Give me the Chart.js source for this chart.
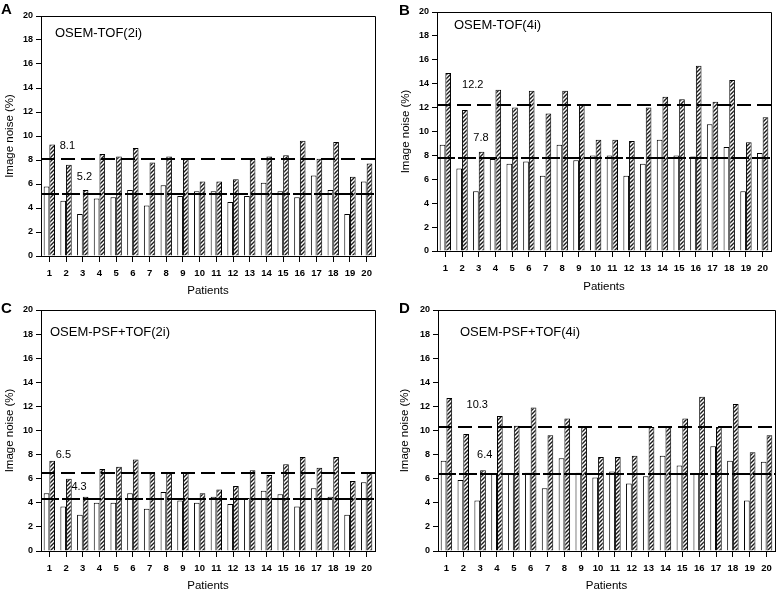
<!DOCTYPE html>
<html lang="en">
<head>
<meta charset="UTF-8" />
<title>Image noise per patient</title>
<script src="https://cdn.jsdelivr.net/npm/chart.js"></script>
<style>
  body { margin: 0; background: #fff; }
  #wrap { position: relative; width: 778px; height: 593px; overflow: hidden; background: #fff; }
  canvas { position: absolute; }
  .tag { position: absolute; font: bold 15px Arial, "Liberation Sans", sans-serif; line-height: 1; color: #000; }
</style>
</head>
<body>
<div id="wrap">
  <canvas id="chartA" width="389" height="303" style="left:0;top:0"></canvas>
  <canvas id="chartB" width="389" height="303" style="left:389px;top:0"></canvas>
  <canvas id="chartC" width="389" height="300" style="left:0;top:297px"></canvas>
  <canvas id="chartD" width="389" height="300" style="left:389px;top:297px"></canvas>
  <div class="tag" style="left:1px;top:1px">A</div>
  <div class="tag" style="left:399px;top:2px">B</div>
  <div class="tag" style="left:1px;top:300px">C</div>
  <div class="tag" style="left:399px;top:300px">D</div>
</div>
<script>
const patients = ['1','2','3','4','5','6','7','8','9','10','11','12','13','14','15','16','17','18','19','20'];
const yMax = 20, yStep = 2;

// A: OSEM-TOF(2i)
const openA  = [5.8, 4.6, 3.5, 4.8, 4.9, 5.5, 4.2, 5.9, 5.0, 5.4, 5.4, 4.5, 5.0, 6.1, 5.4, 4.9, 6.7, 5.5, 3.5, 6.2];
const hatchA = [9.3, 7.6, 5.5, 8.5, 8.3, 9.0, 7.8, 8.3, 8.1, 6.2, 6.2, 6.4, 8.1, 8.3, 8.4, 9.6, 8.1, 9.5, 6.6, 7.7];
const meanA  = [8.1, 5.2];

// B: OSEM-TOF(4i)
const openB  = [8.9, 6.9, 5.0, 7.7, 7.3, 7.5, 6.3, 8.9, 7.6, 8.0, 8.0, 6.3, 7.3, 9.3, 8.0, 7.9, 10.6, 8.7, 5.0, 8.2];
const hatchB = [14.9, 11.8, 8.3, 13.5, 12.0, 13.4, 11.5, 13.4, 12.3, 9.3, 9.3, 9.2, 12.0, 12.9, 12.7, 15.5, 12.5, 14.3, 9.1, 11.2];
const meanB  = [12.2, 7.8];

// C: OSEM-PSF+TOF(2i)
const openC  = [4.8, 3.7, 3.0, 4.0, 4.0, 4.8, 3.5, 4.9, 4.2, 4.0, 4.5, 3.9, 4.4, 5.0, 4.7, 3.7, 5.2, 4.5, 3.0, 5.7];
const hatchC = [7.5, 6.0, 4.5, 6.8, 7.0, 7.6, 6.5, 6.5, 6.5, 4.8, 5.1, 5.4, 6.7, 6.3, 7.2, 7.8, 6.9, 7.8, 5.8, 6.5];
const meanC  = [6.5, 4.3];

// D: OSEM-PSF+TOF(4i)
const openD  = [7.5, 5.9, 4.2, 6.4, 6.4, 6.5, 5.2, 7.7, 6.5, 6.1, 6.6, 5.6, 6.2, 7.9, 7.1, 6.4, 8.7, 7.5, 4.2, 7.4];
const hatchD = [12.7, 9.7, 6.7, 11.2, 10.4, 11.9, 9.6, 11.0, 10.3, 7.8, 7.8, 7.9, 10.3, 10.3, 11.0, 12.8, 10.3, 12.2, 8.2, 9.6];
const meanD  = [10.3, 6.4];

const titles = ['OSEM-TOF(2i)', 'OSEM-TOF(4i)', 'OSEM-PSF+TOF(2i)', 'OSEM-PSF+TOF(4i)'];

const FONT = 'Arial, "Liberation Sans", sans-serif';

function hatchPattern() {
  const c = document.createElement('canvas');
  c.width = 4; c.height = 4;
  const g = c.getContext('2d');
  g.fillStyle = '#fff';
  g.fillRect(0, 0, 4, 4);
  g.strokeStyle = '#1a1a1a';
  g.lineWidth = 1.4;
  g.beginPath();
  g.moveTo(-1, 5); g.lineTo(5, -1);
  g.moveTo(-1, 1); g.lineTo(1, -1);
  g.moveTo(3, 5); g.lineTo(5, 3);
  g.stroke();
  return g.createPattern(c, 'repeat');
}

// mean lines, their labels, the panel title and the top/right frame
const panelDecor = {
  id: 'panelDecor',
  afterDatasetsDraw(chart, args, o) {
    const { ctx, chartArea: a, scales: { x, y } } = chart;
    ctx.save();
    ctx.strokeStyle = '#000';
    ctx.lineWidth = 1;
    ctx.beginPath();
    ctx.moveTo(a.left, a.top + 0.5); ctx.lineTo(a.right + 0.5, a.top + 0.5); ctx.lineTo(a.right + 0.5, a.bottom);
    ctx.stroke();

    o.means.forEach((m, i) => {
      const py = Math.round(y.getPixelForValue(m));
      ctx.lineWidth = 2;
      ctx.setLineDash(i === 0 ? [14, 6] : [18, 3]);
      ctx.beginPath();
      ctx.moveTo(a.left, py); ctx.lineTo(a.right, py);
      ctx.stroke();
      ctx.setLineDash([]);
      ctx.fillStyle = '#000';
      ctx.font = '11px ' + FONT;
      ctx.textAlign = 'center';
      ctx.textBaseline = 'middle';
      ctx.fillText(m.toFixed(1), x.getPixelForValue(o.labelAt[i][0]), y.getPixelForValue(o.labelAt[i][1]));
    });

    ctx.font = '13px ' + FONT;
    ctx.textAlign = 'left';
    ctx.textBaseline = 'middle';
    ctx.fillText(o.title, a.left + o.titleAt[0], a.top + o.titleAt[1]);
    ctx.restore();
  }
};

function makePanel(id, open, hatch, means, title, g) {
  new Chart(document.getElementById(id), {
    type: 'bar',
    data: {
      labels: patients,
      datasets: [
        { data: open, backgroundColor: '#fff', borderColor: '#000', borderWidth: 1,
          categoryPercentage: 0.68, barPercentage: 1.0 },
        { data: hatch, backgroundColor: hatchPattern(), borderColor: '#000', borderWidth: 1,
          categoryPercentage: 0.68, barPercentage: 1.0 }
      ]
    },
    plugins: [panelDecor],
    options: {
      responsive: false,
      animation: false,
      layout: { padding: { top: g.top, right: g.right, left: 0, bottom: 0 } },
      plugins: {
        legend: { display: false },
        tooltip: { enabled: false },
        panelDecor: { means, title, labelAt: g.labelAt, titleAt: g.titleAt }
      },
      scales: {
        x: {
          grid: { display: true, drawOnChartArea: false, drawTicks: true, tickLength: 6, offset: false, color: '#000' },
          border: { display: true, color: '#000', width: 1 },
          ticks: { color: '#000', font: { family: FONT, size: 9.5, weight: 'bold' }, padding: 6, maxRotation: 0, autoSkip: false },
          title: { display: true, text: 'Patients', color: '#000', font: { family: FONT, size: 11.5 }, padding: { top: 0, bottom: g.xPb } },
          afterFit: s => { s.height = g.xh; s.paddingLeft = 0; s.paddingRight = 0; }
        },
        y: {
          min: 0,
          max: yMax,
          grid: { display: true, drawOnChartArea: false, drawTicks: true, tickLength: 5, color: '#000' },
          border: { display: true, color: '#000', width: 1 },
          ticks: { stepSize: yStep, color: '#000', font: { family: FONT, size: 9, weight: 'bold' }, padding: 3 },
          title: { display: true, text: 'Image noise (%)', color: '#000', font: { family: FONT, size: 11.5 }, padding: { top: g.yPad, bottom: 0 } },
          afterFit: s => { s.width = g.yw; s.paddingTop = 0; s.paddingBottom = 0; }
        }
      }
    }
  });
}

makePanel('chartA', openA, hatchA, meanA, titles[0],
  { top: 16, right: 14, yw: 41, xh: 47, xPb: 5, yPad: 3, titleAt: [14, 17], labelAt: [[1.08, 9.15], [2.1, 6.55]] });
makePanel('chartB', openB, hatchB, meanB, titles[1],
  { top: 12, right: 7, yw: 48, xh: 52, xPb: 9, yPad: 10, titleAt: [17, 13], labelAt: [[1.64, 13.9], [2.13, 9.5]] });
makePanel('chartC', openC, hatchC, meanC, titles[2],
  { top: 13, right: 14, yw: 41, xh: 46, xPb: 4, yPad: 3, titleAt: [9, 22], labelAt: [[0.84, 8.0], [1.78, 5.3]] });
makePanel('chartD', openD, hatchD, meanD, titles[3],
  { top: 13, right: 3, yw: 49, xh: 46, xPb: 4, yPad: 9, titleAt: [22, 22], labelAt: [[1.83, 12.1], [2.27, 8.0]] });
</script>
</body>
</html>
